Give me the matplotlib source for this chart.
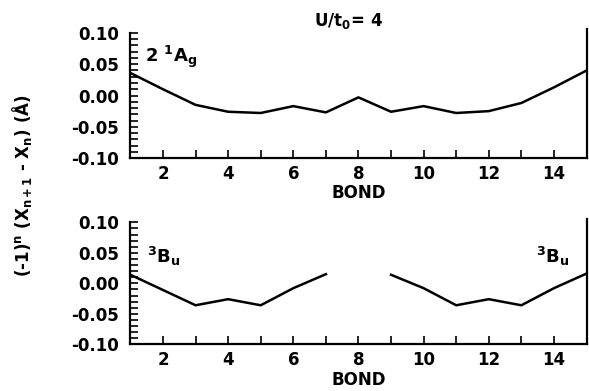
import numpy as np
import matplotlib
matplotlib.use("Agg")
import matplotlib.pyplot as plt
from matplotlib.ticker import MultipleLocator

plt.rcParams['font.family'] = ['DejaVu Sans']
plt.rcParams['font.weight'] = 'bold'
plt.rcParams['axes.labelweight'] = 'bold'
plt.rcParams['mathtext.fontset'] = 'dejavusans'
plt.rcParams['mathtext.default'] = 'bf'

# bond index and staggered displacement (angstrom)
bonds = np.arange(1, 16)
disp_2Ag = [0.036, 0.010, -0.015, -0.026, -0.028, -0.017, -0.027, -0.003,
            -0.026, -0.017, -0.028, -0.025, -0.012, 0.013, 0.040]
# bond 8 is undefined for the triplet state
disp_3Bu = [0.014, -0.011, -0.036, -0.026, -0.036, -0.008, 0.015, np.nan,
            0.014, -0.008, -0.036, -0.026, -0.036, -0.008, 0.016]
xticks_major = [2, 4, 6, 8, 10, 12, 14]
yticks_major = [-0.10, -0.05, 0.00, 0.05, 0.10]


def style_axes(ax):
    ax.set_xlim(1, 15)
    ax.set_ylim(-0.10, 0.106)
    ax.spines['top'].set_visible(False)
    ax.spines['left'].set_bounds(-0.10, 0.10)
    for s in ('left', 'bottom', 'right'):
        ax.spines[s].set_linewidth(1.6)
    ax.set_xticks(xticks_major)
    ax.xaxis.set_minor_locator(MultipleLocator(1))
    ax.set_yticks(yticks_major)
    ax.set_yticklabels(['%.2f' % v if v >= 0 else '-%.2f' % -v for v in yticks_major])
    ax.yaxis.set_minor_locator(MultipleLocator(0.01))
    ax.tick_params(axis='both', which='both', direction='in', width=1.2,
                   labelsize=12)
    ax.tick_params(axis='x', which='both', length=5.5, pad=5)
    ax.tick_params(axis='y', which='both', length=5.5, pad=8)
    ax.set_xlabel('BOND', fontsize=12, labelpad=1)


fig = plt.figure(figsize=(5.89, 3.91), dpi=100)
ax1 = fig.add_axes([0.2214, 0.5959, 0.7744, 0.3293])
ax2 = fig.add_axes([0.2214, 0.1194, 0.7744, 0.3214])

ax1.plot(bonds, disp_2Ag, color='black', lw=1.8)
ax2.plot(bonds, disp_3Bu, color='black', lw=1.8)
style_axes(ax1)
style_axes(ax2)

ax1.text(1.45, 0.054, r'2 $^1$A$_g$', fontsize=13, va='baseline')
ax2.text(1.5, 0.033, r'$^3$B$_u$', fontsize=13, va='baseline')
ax2.text(13.46, 0.033, r'$^3$B$_u$', fontsize=13, va='baseline')

fig.text(348 / 589, 1 - 21 / 391, r'U/t$_0$= 4', fontsize=12,
         ha='center', va='center')
fig.text(22 / 589, 1 - 186 / 391, r'(-1)$^n$ (X$_{n+1}$ - X$_n$) (Å)',
         fontsize=12, rotation=90, ha='center', va='center')

fig.savefig('out.png', dpi=100)
